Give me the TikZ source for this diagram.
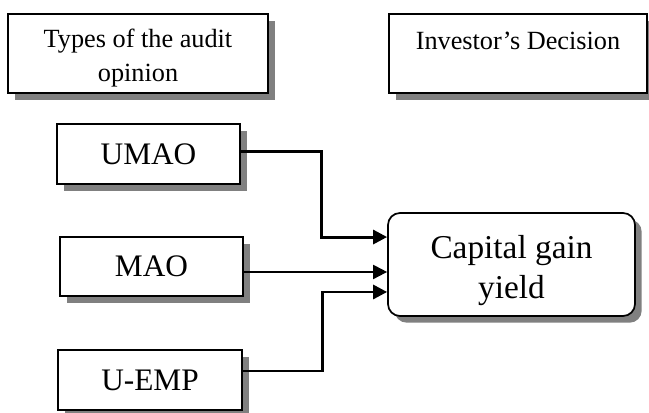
\documentclass[tikz,border=0pt]{standalone}
\usepackage{fontspec}
\setmainfont{Liberation Serif}
\usetikzlibrary{shadows,arrows.meta}
\tikzset{
  shd/.style={drop shadow={shadow xshift=5pt,shadow yshift=-5pt,fill=black!50,opacity=1}},
  hbox/.style={draw,line width=1.3pt,fill=white,shd,inner sep=0pt},
  htext/.style={align=center,inner sep=0pt,font=\fontsize{19.7}{25.5}\selectfont},
  sbox/.style={draw,line width=1.3pt,fill=white,shd,inner sep=0pt,
    font=\fontsize{23.5}{28}\selectfont},
  cbox/.style={draw,line width=1.3pt,fill=white,shd,rounded corners=9pt,inner sep=0pt},
  ctext/.style={align=center,inner sep=0pt,font=\fontsize{25}{30}\selectfont},
  conn/.style={line width=2.2pt,-{Triangle[length=10.5pt,width=10.5pt]}},
  connthin/.style={line width=1.5pt,-{Triangle[length=10.5pt,width=10.5pt]}}
}
\begin{document}
\begin{tikzpicture}[x=0.75pt,y=-0.75pt]
\useasboundingbox (0,0) rectangle (649,412);
\node[hbox,minimum width=195pt,minimum height=59.25pt,
  label={[htext,yshift=-3.75pt]center:Types of the audit\\opinion}] (types) at (138,53.5) {};
\node[hbox,minimum width=193.5pt,minimum height=59.25pt,
  label={[htext,yshift=-3pt]center:Investor’s Decision\\\mbox{}}] (inv) at (518,53.5) {};
\node[sbox,minimum width=137.25pt,minimum height=45pt] (umao) at (148.5,154) {UMAO};
\node[sbox,minimum width=137.25pt,minimum height=44.25pt] (mao) at (151.5,266.5) {MAO};
\node[sbox,minimum width=138pt,minimum height=45pt] (uemp) at (150,380) {U-EMP};
\node[cbox,minimum width=185.25pt,minimum height=77.25pt,
  label={[ctext,yshift=-4.5pt]center:Capital gain\\yield}] (cap) at (511.5,264.5) {};
\coordinate (t1) at ([yshift=20.6pt]cap.west);
\coordinate (t2) at ([yshift=-5.6pt]cap.west);
\coordinate (t3) at ([yshift=-20.6pt]cap.west);
\draw[conn] ([yshift=2.2pt]umao.east) -| ([xshift=-49.5pt]t1) -- (t1);
\draw[connthin] (mao.east |- t2) -- (t2);
\draw[conn] ([yshift=6.75pt]uemp.east) -| ([xshift=-48.75pt]t3) -- (t3);
\end{tikzpicture}
\end{document}
